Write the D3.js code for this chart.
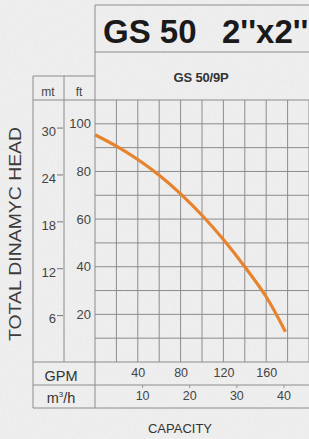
<!DOCTYPE html>
<html>
<head>
<meta charset="utf-8">
<script src="https://cdn.jsdelivr.net/npm/d3@7"></script>
<style>
  body { margin: 0; background: #efefef; }
  svg { display: block; font-family: "Liberation Sans", Arial, sans-serif; }
</style>
</head>
<body>
<svg id="chart" width="309" height="439"></svg>
<script>
  // pump curve, flow in GPM vs head in ft
  const flowGpm = [0, 20, 40, 60, 80, 100, 120, 140, 160, 178];
  const headFt  = [95.4, 90.6, 85.0, 78.4, 70.6, 61.6, 51.4, 40.0, 27.4, 12.7];

  const ftTicks = [20, 40, 60, 80, 100];
  const mtTicks = [6, 12, 18, 24, 30];
  const gpmTicks = [40, 80, 120, 160];
  const m3hTicks = [10, 20, 30, 40];

  const titleParts = ["GS 50", "2''x2''"];
  const model = "GS 50/9P";

  const svg = d3.select("#chart");
  const W = 309, H = 439;
  const plot = {left: 95, top: 100, bottom: 362};
  const tableLeft = 33, colSplit = 64;
  const gpmRowBottom = 385, m3hRowBottom = 408;
  const lineColor = "#8c8c8c";
  const textColor = "#444";

  // paper-like background
  const defs = svg.append("defs");
  const f = defs.append("filter").attr("id", "paper");
  f.append("feTurbulence").attr("type", "fractalNoise").attr("baseFrequency", 0.35)
    .attr("numOctaves", 2).attr("seed", 4);
  f.append("feColorMatrix").attr("type", "matrix")
    .attr("values", "0 0 0 0 0.45  0 0 0 0 0.45  0 0 0 0 0.45  0 0 0 0.09 0");

  svg.append("rect").attr("width", W).attr("height", H).attr("fill", "#f0f0f0");
  svg.append("rect").attr("width", W).attr("height", H).attr("filter", "url(#paper)");

  // scales
  const x = d3.scaleLinear().domain([0, 200]).range([plot.left, plot.left + 200 * 1.07]);
  const xM = d3.scaleLinear().domain([0, 200 * 0.22712]).range(x.range());
  const y = d3.scaleLinear().domain([0, 110]).range([plot.bottom, plot.top]);
  const yM = d3.scaleLinear().domain([0, 110 * 0.3048]).range(y.range());

  const g = svg.append("g");

  // grid
  g.append("g").selectAll("line")
    .data(d3.range(20, 201, 20))
    .enter().append("line")
      .attr("x1", d => x(d)).attr("x2", d => x(d))
      .attr("y1", plot.top).attr("y2", plot.bottom)
      .attr("stroke", lineColor).attr("stroke-width", 1);

  g.append("g").selectAll("line")
    .data(d3.range(10, 110, 10))
    .enter().append("line")
      .attr("x1", plot.left).attr("x2", W)
      .attr("y1", d => y(d)).attr("y2", d => y(d))
      .attr("stroke", lineColor).attr("stroke-width", 1);

  // frame / table lines
  const frame = [
    [plot.left, 5, W, 5],
    [plot.left, 52, W, 52],
    [tableLeft, 76, plot.left, 76],
    [tableLeft, plot.top, W, plot.top],
    [tableLeft, plot.bottom, W, plot.bottom],
    [tableLeft, gpmRowBottom, W, gpmRowBottom],
    [tableLeft, m3hRowBottom, W, m3hRowBottom],
    [tableLeft, 76, tableLeft, m3hRowBottom],
    [colSplit, 76, colSplit, plot.bottom],
    [plot.left, 5, plot.left, m3hRowBottom]
  ];
  g.append("g").selectAll("line")
    .data(frame)
    .enter().append("line")
      .attr("x1", d => d[0]).attr("y1", d => d[1])
      .attr("x2", d => d[2]).attr("y2", d => d[3])
      .attr("stroke", lineColor).attr("stroke-width", 1);

  // title
  const t = svg.append("text")
    .attr("y", 43)
    .attr("font-size", 33).attr("font-weight", "bold")
    .attr("fill", "#1a1a1a");
  t.append("tspan").attr("x", 103).text(titleParts[0]);
  t.append("tspan").attr("x", 222).text(titleParts[1]);

  svg.append("text")
    .attr("x", 201).attr("y", 82)
    .attr("text-anchor", "middle")
    .attr("font-size", 13).attr("font-weight", "bold")
    .attr("letter-spacing", -0.2)
    .attr("fill", "#333")
    .text(model);

  // header cells
  svg.append("text").attr("x", 48).attr("y", 96).attr("text-anchor", "middle")
    .attr("font-size", 12).attr("fill", textColor).text("mt");
  svg.append("text").attr("x", 79).attr("y", 96).attr("text-anchor", "middle")
    .attr("font-size", 12).attr("fill", textColor).text("ft");

  // ft axis
  const ftAxis = d3.axisLeft(y).tickValues(ftTicks).tickSize(0).tickPadding(4);
  svg.append("g").attr("transform", "translate(" + plot.left + ",0)")
    .call(ftAxis)
    .call(s => s.select(".domain").remove())
    .call(s => s.selectAll("text").attr("font-size", 13).attr("fill", textColor)
      .attr("font-family", "Liberation Sans, Arial, sans-serif"));

  // mt axis
  const mtAxis = d3.axisLeft(yM).tickValues(mtTicks).tickSize(6).tickPadding(1);
  svg.append("g").attr("transform", "translate(" + (colSplit - 1) + ",0)")
    .call(mtAxis)
    .call(s => s.select(".domain").remove())
    .call(s => s.selectAll("line").attr("stroke", "#777"))
    .call(s => s.selectAll("text").attr("font-size", 13).attr("fill", textColor)
      .attr("dy", "0.6em")
      .attr("font-family", "Liberation Sans, Arial, sans-serif"));

  // GPM row
  const gpmAxis = d3.axisBottom(x).tickValues(gpmTicks).tickSize(0).tickPadding(0);
  svg.append("g").attr("transform", "translate(0," + (plot.bottom + 6) + ")")
    .call(gpmAxis)
    .call(s => s.select(".domain").remove())
    .call(s => s.selectAll("text").attr("font-size", 12.5).attr("fill", textColor)
      .attr("font-family", "Liberation Sans, Arial, sans-serif"));

  // m3/h row
  const m3hAxis = d3.axisBottom(xM).tickValues(m3hTicks).tickSize(3).tickPadding(3);
  svg.append("g").attr("transform", "translate(0," + gpmRowBottom + ")")
    .call(m3hAxis)
    .call(s => s.select(".domain").remove())
    .call(s => s.selectAll("line").attr("stroke", "#999"))
    .call(s => s.selectAll("text").attr("font-size", 12.5).attr("fill", textColor)
      .attr("font-family", "Liberation Sans, Arial, sans-serif"));

  // row labels
  svg.append("text").attr("x", 61).attr("y", 381).attr("text-anchor", "middle")
    .attr("font-size", 14.5).attr("fill", "#333").text("GPM");
  const m3 = svg.append("text").attr("x", 61).attr("y", 403).attr("text-anchor", "middle")
    .attr("font-size", 14.5).attr("fill", "#333");
  m3.append("tspan").text("m");
  m3.append("tspan").attr("dy", -6).attr("font-size", 8).text("3");
  m3.append("tspan").attr("dy", 6).text("/h");

  // axis titles
  svg.append("text")
    .attr("transform", "translate(21,234) rotate(-90)")
    .attr("text-anchor", "middle")
    .attr("font-size", 16).attr("fill", "#3c3c3c")
    .attr("textLength", 214).attr("lengthAdjust", "spacingAndGlyphs")
    .text("TOTAL DINAMYC HEAD");

  svg.append("text")
    .attr("x", 180).attr("y", 433)
    .attr("text-anchor", "middle")
    .attr("font-size", 13).attr("fill", "#333")
    .text("CAPACITY");

  // curve
  const pts = flowGpm.map((q, i) => [q, headFt[i]]);
  const line = d3.line()
    .x(d => x(d[0]))
    .y(d => y(d[1]))
    .curve(d3.curveCatmullRom.alpha(0.5));

  svg.append("path")
    .datum(pts)
    .attr("d", line)
    .attr("fill", "none")
    .attr("stroke", "#e8832d")
    .attr("stroke-width", 3.2);
</script>
</body>
</html>
